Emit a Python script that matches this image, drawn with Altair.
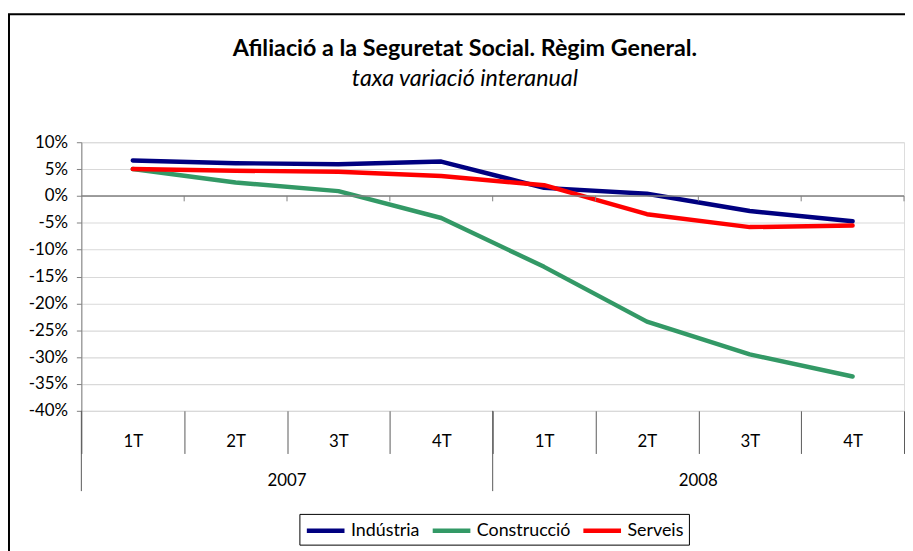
import altair as alt
import pandas as pd

# ---- data ----
years = ["2007", "2007", "2007", "2007", "2008", "2008", "2008", "2008"]
quarters = ["1T", "2T", "3T", "4T", "1T", "2T", "3T", "4T"]
industria = [6.6, 6.1, 5.9, 6.4, 1.5, 0.4, -2.8, -4.7]
construccio = [5.0, 2.5, 0.9, -4.1, -13.2, -23.4, -29.5, -33.6]
serveis = [5.0, 4.7, 4.5, 3.7, 2.0, -3.4, -5.8, -5.5]
series_names = ["Indústria", "Construcció", "Serveis"]
series_colors = ["#000080", "#339966", "#FF0000"]
year_labels = ["2007", "2008"]
y_ticks = [10, 5, 0, -5, -10, -15, -20, -25, -30, -35, -40]
title_text = "Afiliació a la Seguretat Social. Règim General."
subtitle_text = "taxa variació interanual"

keys = [f"{y}-{q}" for y, q in zip(years, quarters)]

rows = []
for name, vals in zip(series_names, [industria, construccio, serveis]):
    for k, v in zip(keys, vals):
        rows.append({"cat": k, "serie": name, "val": v})
df = pd.DataFrame(rows)

FONT = "Lato"
W, H = 830, 271

xscale = alt.Scale(domain=keys, paddingInner=0, paddingOuter=0)
yscale = alt.Scale(domain=[-40, 10], nice=False)
yaxis = alt.Axis(values=y_ticks, tickCount=11, labelExpr="datum.value + '%'", labelOverlap=False,
                 labelFontSize=17, labelFont=FONT, labelColor="#000000",
                 tickSize=5, tickColor="#808080", domainColor="#808080",
                 gridColor="#d9d9d9", gridWidth=1.2, labelPadding=9, title=None)

lines = alt.Chart(df).mark_line(strokeWidth=4.5, strokeCap="round", strokeJoin="round").encode(
    x=alt.X("cat:N", scale=xscale, sort=keys, title=None,
            axis=alt.Axis(tickBand="extent", labelExpr="split(datum.value,'-')[1]",
                          labelAngle=0, tickSize=43, tickColor="#595959", tickWidth=1,
                          labelPadding=-20, labelFontSize=17, labelFont=FONT,
                          labelColor="#000000", domain=False, grid=False)),
    y=alt.Y("val:Q", scale=yscale, title=None, axis=yaxis),
    color=alt.Color("serie:N", scale=alt.Scale(domain=series_names, range=series_colors),
                    sort=series_names,
                    legend=alt.Legend(title=None, orient="none", legendX=220, legendY=375,
                                      direction="horizontal", columns=3,
                                      strokeColor="#000000", fillColor="#ffffff",
                                      padding=5, symbolType="M-1,0H3", symbolStrokeWidth=4.5,
                                      symbolSize=361, labelFontSize=18, labelFont=FONT,
                                      labelColor="#000000", columnPadding=3, labelOffset=23)),
)

zero_df = pd.DataFrame({"z": [0]})
zero_line = alt.Chart(zero_df).mark_rule(color="#808080", strokeWidth=1.5).encode(
    y=alt.Y("z:Q", scale=yscale, axis=yaxis)
)

tick_df = pd.DataFrame({"cat": keys, "z": [0] * len(keys), "z2": [-1] * len(keys)})
zero_ticks = alt.Chart(tick_df).mark_rule(color="#808080", strokeWidth=1).encode(
    x=alt.X("cat:N", scale=xscale, sort=keys, bandPosition=1),
    y=alt.Y("z:Q", scale=yscale, axis=yaxis),
    y2="z2:Q",
)

sep_df = pd.DataFrame({"cat": [keys[0], keys[4]]})
year_sep = alt.Chart(sep_df).mark_rule(color="#595959", strokeWidth=1).encode(
    x=alt.X("cat:N", scale=xscale, sort=keys, bandPosition=0),
    y=alt.value(H),
    y2=alt.value(H + 81),
)

year_df = pd.DataFrame({"cat": [keys[2], keys[6]], "label": year_labels})
year_text = alt.Chart(year_df).mark_text(font=FONT, fontSize=17, color="#000000",
                                         baseline="middle", align="center").encode(
    x=alt.X("cat:N", scale=xscale, sort=keys, bandPosition=0),
    y=alt.value(H + 71),
    text="label:N",
)

title_df = pd.DataFrame({"t": [title_text]})
title_mark = alt.Chart(title_df).mark_text(font=FONT, fontSize=23.5, fontWeight="bold",
                                           color="#000000", align="center",
                                           baseline="alphabetic").encode(
    x=alt.value(387), y=alt.value(-87), text="t:N"
)
sub_df = pd.DataFrame({"t": [subtitle_text]})
sub_mark = alt.Chart(sub_df).mark_text(font=FONT, fontSize=23.5, fontStyle="italic",
                                       color="#000000", align="center",
                                       baseline="alphabetic").encode(
    x=alt.value(387), y=alt.value(-57), text="t:N"
)

border = alt.Chart(zero_df).mark_rect(fill=None, stroke="#000000", strokeWidth=2).encode(
    x=alt.value(-73), x2=alt.value(W + 40), y=alt.value(-129), y2=alt.value(H + 200)
)

chart = alt.layer(border, lines, zero_line, zero_ticks, year_sep, year_text,
                  title_mark, sub_mark).properties(
    width=W, height=H,
    autosize=alt.AutoSizeParams(type="none"),
    padding={"left": 74, "top": 133, "right": 1, "bottom": 139},
).configure_view(stroke=None).configure_axisY(labelOverlap=False).configure(background="#ffffff")

chart.save("out.html", embed_options={"renderer": "svg", "actions": False})
